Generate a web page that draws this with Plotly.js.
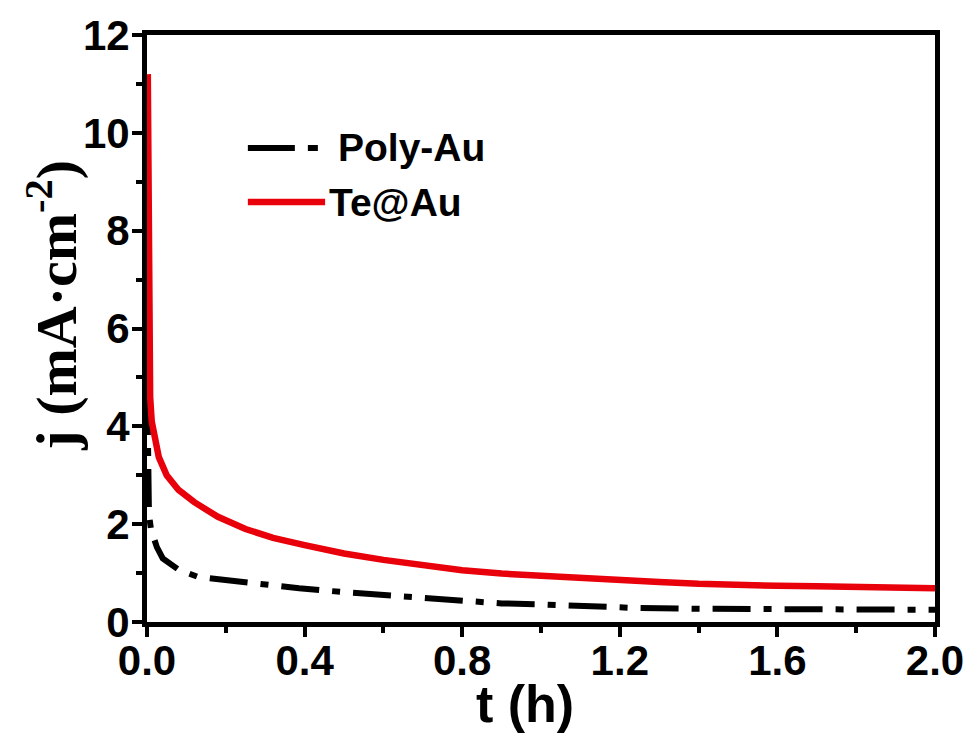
<!DOCTYPE html>
<html>
<head>
<meta charset="utf-8">
<script src="https://cdn.plot.ly/plotly-3.0.1.min.js"></script>
<style>html,body{margin:0;padding:0;background:#fff;}#chart{width:964px;height:738px;}</style>
</head>
<body>
<div id="chart"></div>
<script>
// Poly-Au (black dash-dot)
const polyT = [0.001, 0.003, 0.005, 0.01, 0.025, 0.04, 0.056, 0.08, 0.13, 0.2, 0.26, 0.386, 0.5, 0.6, 0.7, 0.81, 0.9, 1.0, 1.1, 1.23, 1.4, 1.6, 1.8, 2.0];
const polyJ = [4.6, 3.0, 2.2, 1.9, 1.53, 1.3, 1.2, 1.07, 0.92, 0.85, 0.8, 0.69, 0.61, 0.55, 0.47, 0.41, 0.38, 0.36, 0.33, 0.29, 0.27, 0.26, 0.25, 0.25];
// Te@Au (red solid)
const teT = [0.002, 0.004, 0.006, 0.008, 0.012, 0.02, 0.03, 0.05, 0.08, 0.12, 0.18, 0.25, 0.32, 0.4, 0.5, 0.6, 0.7, 0.8, 0.9, 1.0, 1.1, 1.2, 1.3, 1.4, 1.5, 1.6, 1.7, 1.8, 1.9, 2.0];
const teJ = [11.2, 8.0, 5.6, 4.6, 4.1, 3.7, 3.37, 3.0, 2.7, 2.45, 2.15, 1.9, 1.72, 1.57, 1.4, 1.27, 1.15, 1.06, 0.99, 0.94, 0.90, 0.86, 0.82, 0.78, 0.75, 0.74, 0.73, 0.72, 0.70, 0.69];
const xTicks = [0.0, 0.4, 0.8, 1.2, 1.6, 2.0];
const xTickText = ["0.0", "0.4", "0.8", "1.2", "1.6", "2.0"];
const yTicks = [0, 2, 4, 6, 8, 10, 12];
const names = ["Poly-Au", "Te@Au"];
const xTitle = "t (h)";
const yTitle = "j (mA·cm<sup>-2</sup>)";

const sans = "'Liberation Sans', Arial, Helvetica, sans-serif";
const tickFont = {family: sans, size: 42, color: "#000", weight: "bold"};

const traces = [
  {x: polyT, y: polyJ, mode: "lines", name: names[0], line: {color: "#000", width: 6, dash: "38px,13px,8px,13px"}, showlegend: false},
  {x: teT, y: teJ, mode: "lines", name: names[1], line: {color: "#e8000b", width: 6.5}, showlegend: false}
];

const axisCommon = {
  showline: true, mirror: true, linewidth: 5, linecolor: "#000",
  ticks: "outside", ticklen: 10, tickwidth: 4, tickcolor: "#000",
  showgrid: false, zeroline: false, tickfont: tickFont, ticklabeloverflow: "allow"
};

const layout = {
  width: 964, height: 738,
  margin: {l: 147, r: 29, t: 35, b: 116},
  paper_bgcolor: "#fff", plot_bgcolor: "#fff",
  xaxis: Object.assign({}, axisCommon, {
    range: [0, 2.0], tickvals: xTicks, ticktext: xTickText, ticklabelstandoff: -12,
    minor: {dtick: 0.2, ticks: "outside", ticklen: 6, tickwidth: 4, tickcolor: "#000"}
  }),
  yaxis: Object.assign({}, axisCommon, {
    range: [0, 12], tickvals: yTicks, ticklabelstandoff: -6,
    minor: {dtick: 1, ticks: "outside", ticklen: 6, tickwidth: 4, tickcolor: "#000"}
  }),
  shapes: [
    {type: "line", xref: "paper", yref: "paper", x0: 0.128, x1: 0.217, y0: 0.8075, y1: 0.8075, line: {color: "#000", width: 6, dash: "47px,13px,10px,100px"}},
    {type: "line", xref: "paper", yref: "paper", x0: 0.128, x1: 0.226, y0: 0.7155, y1: 0.7155, line: {color: "#e8000b", width: 6.5}}
  ],
  annotations: [
    {xref: "paper", yref: "paper", x: 0.240, y: 0.8075, xanchor: "left", yanchor: "middle", showarrow: false, text: "<b>" + names[0] + "</b>", font: {family: sans, size: 39, color: "#000"}},
    {xref: "paper", yref: "paper", x: 0.228, y: 0.7155, xanchor: "left", yanchor: "middle", showarrow: false, text: "<b>" + names[1] + "</b>", font: {family: sans, size: 39, color: "#000"}},
    {xref: "paper", yref: "paper", x: 0.48, y: -0.14, xanchor: "center", yanchor: "middle", showarrow: false, text: "<b>" + xTitle + "</b>", font: {family: sans, size: 52, color: "#000"}},
    {xref: "paper", yref: "paper", x: -0.121, y: 0.54, xanchor: "center", yanchor: "middle", textangle: -90, showarrow: false, text: "<b>" + yTitle + "</b>", font: {family: "'Liberation Serif', 'Times New Roman', serif", size: 58, color: "#000"}}
  ]
};

Plotly.newPlot("chart", traces, layout, {displayModeBar: false, staticPlot: true});
</script>
</body>
</html>
